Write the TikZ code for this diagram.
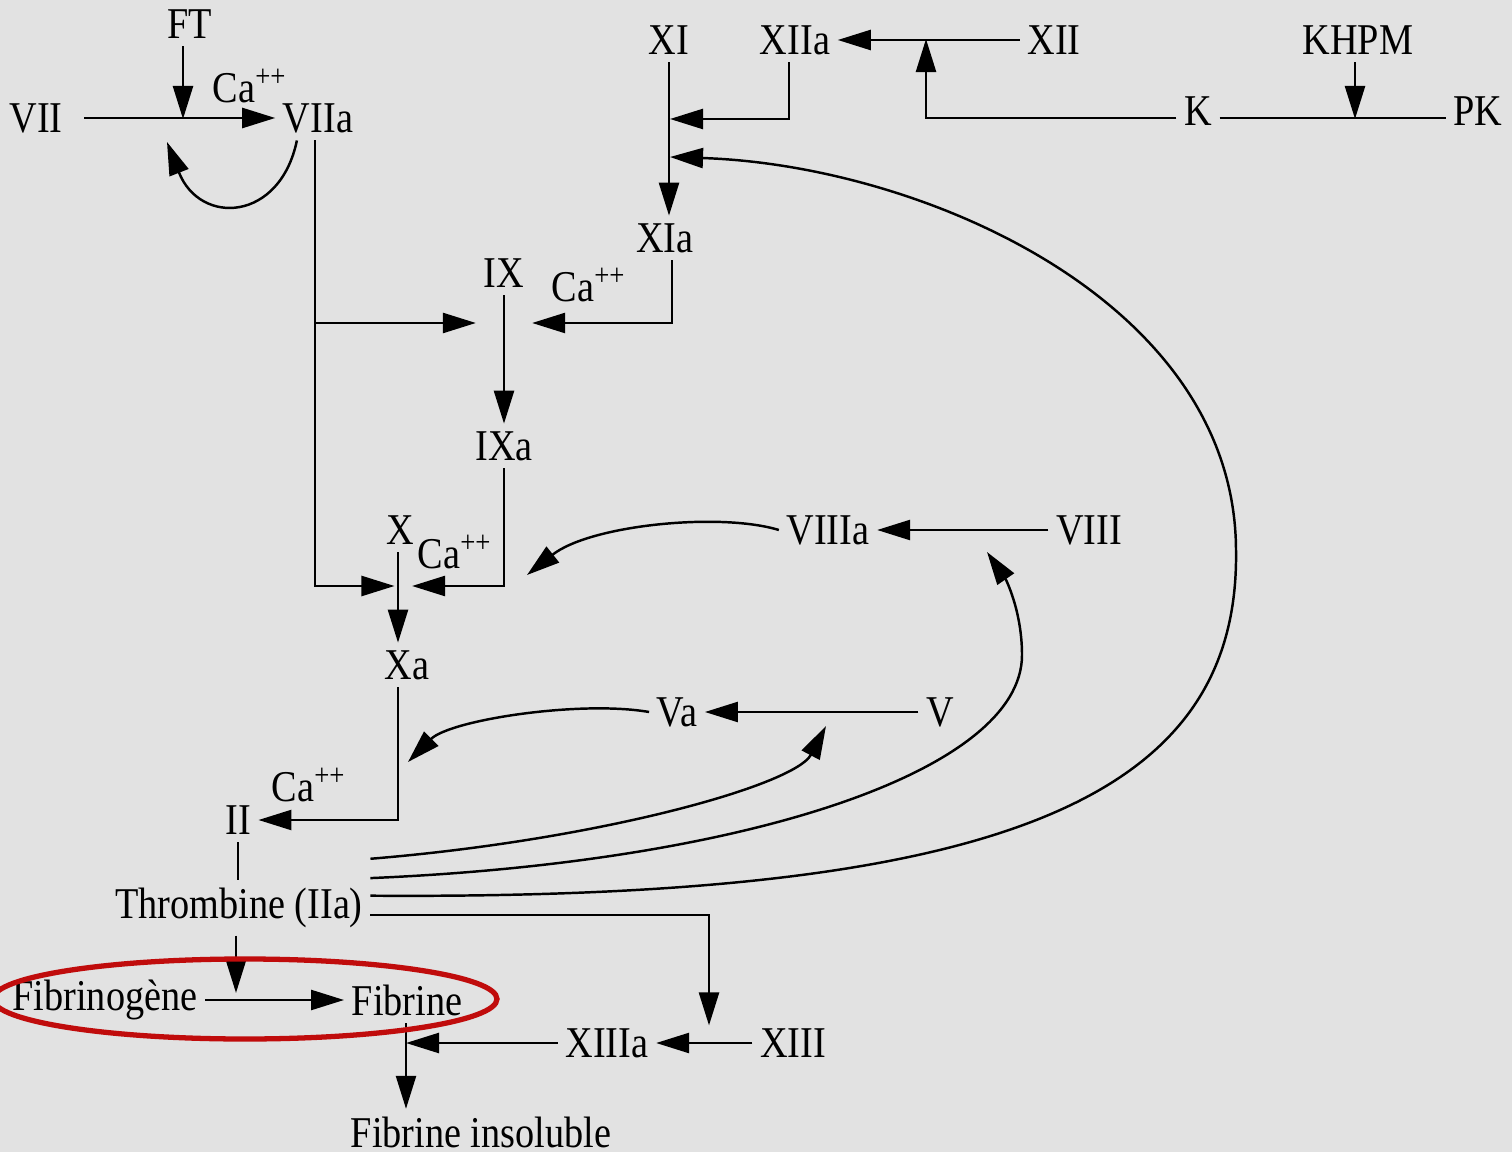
\documentclass[tikz,border=0pt]{standalone}
\usepackage{fontspec}
\setmainfont[FakeStretch=0.87]{Liberation Serif}
\usetikzlibrary{arrows.meta}
\definecolor{paper}{RGB}{226,226,226}
\definecolor{darkred}{RGB}{192,12,12}
\tikzset{
  fac/.style={inner sep=2pt, font=\fontsize{12.5}{14}\selectfont},
  arr/.style={-{Triangle[length=3.3mm,width=2mm]}, line width=0.7pt},
  ln/.style={line width=0.7pt}
}

\begin{document}
\begin{tikzpicture}[x=0.01cm,y=-0.01cm]
    \fill[paper] (0,0) rectangle (1512,1152);
    \useasboundingbox (0,0) rectangle (1512,1152);
    % factors
    \node[fac] (FT)    at (190,24)  {FT};
    \node[fac] (VII)   at (36,118)  {VII};
    \node[fac] (VIIa)  at (318,118) {VIIa};
    \node[fac] (CaA)   at (250,86)  {Ca\textsuperscript{++}};
    \node[fac] (XI)    at (669,40)  {XI};
    \node[fac] (XIIa)  at (795,40)  {XIIa};
    \node[fac] (XII)   at (1054,40) {XII};
    \node[fac] (KHPM)  at (1358,40) {KHPM};
    \node[fac] (K)     at (1198,111) {K};
    \node[fac] (PK)    at (1478,111) {PK};
    \node[fac] (XIa)   at (665,238) {XIa};
    \node[fac] (IX)    at (504,273) {IX};
    \node[fac] (CaB)   at (589,285) {Ca\textsuperscript{++}};
    \node[fac] (IXa)   at (504,446) {IXa};
    \node[fac] (X)     at (400,530) {X};
    \node[fac] (CaC)   at (455,552) {Ca\textsuperscript{++}};
    \node[fac] (Xa)    at (407,665) {Xa};
    \node[fac] (VIIIa) at (828,530) {VIIIa};
    \node[fac] (VIII)  at (1089,530) {VIII};
    \node[fac] (Va)    at (677,712) {Va};
    \node[fac] (V)     at (940,712) {V};
    \node[fac] (CaD)   at (309,785) {Ca\textsuperscript{++}};
    \node[fac] (II)    at (238,820) {II};
    \node[fac] (Thr)   at (239,908) {Thrombine (IIa)};
    \node[fac] (Fibg)  at (105,1000) {Fibrinogène};
    \node[fac] (Fib)   at (407,1000) {Fibrine};
    \node[fac] (XIIIa) at (607,1043) {XIIIa};
    \node[fac] (XIII)  at (793,1043) {XIII};
    \node[fac] (Ins)   at (481,1132) {Fibrine insoluble};
    % junctions and free ends
    \coordinate (jFT)  at (183,119);
    \coordinate (jXI1) at (670,119);
    \coordinate (jXI2) at (670,157);
    \coordinate (jIX)  at (504,323);
    \coordinate (jVII) at (315,323);
    \coordinate (jX)   at (398,586);
    \coordinate (jF)   at (236,1000);
    \coordinate (jXIII) at (709,1043);
    \coordinate (jIns) at (406,1043);
    \coordinate (jXII) at (926,39);
    \coordinate (jKH)  at (1355,119);
    \coordinate (loopend) at (167,142);
    \coordinate (tipX)  at (527,575);
    \coordinate (tipII) at (408,762);
    \coordinate (tipV)  at (826,726);
    \coordinate (tipVIII) at (987,552);
    % extrinsic pathway
    \draw[arr] (FT.south -| jFT) -- (jFT);
    \draw[arr, shorten <=4pt] (VII.east) -- (VIIa.west);
    \draw[arr] ([xshift=-6pt]VIIa.south) .. controls (280,222) and (200,226) .. (loopend);
    \draw[arr, shorten >=1pt] ([xshift=-0.8pt]VIIa.south) |- (jX);
    \draw[arr, shorten >=8pt] (jVII) -- (jIX);
    % intrinsic pathway
    \draw[arr] (XII.west) -- (XIIa.east);
    \draw[arr] ([yshift=-2pt]K.west) -| (jXII);
    \draw[ln] ([yshift=-2pt]K.east) -- ([yshift=-2pt]PK.west);
    \draw[arr] (KHPM.south -| jKH) -- (jKH);
    \draw[arr] ([xshift=-1.7pt]XIIa.south) |- (jXI1);
    \draw[arr] (XI.south) -- (XI.south |- XIa.north);
    \draw[arr, shorten >=8pt] ([xshift=2pt]XIa.south) |- (jIX);
    \draw[arr] (IX.south) -- (IXa.north);
    \draw[arr, shorten >=4pt] (IXa.south) |- (jX);
    \draw[arr] (VIII.west) -- (VIIIa.east);
    \draw[arr] (VIIIa.west) .. controls (720,512) and (590,525) .. (tipX);
    % common pathway
    \draw[arr] (X.south -| jX) -- (jX |- Xa.north);
    \draw[arr] (jX |- Xa.south) |- (II.east);
    \draw[arr] (V.west) -- (Va.east);
    \draw[arr] (Va.west) .. controls (580,700) and (450,720) .. (tipII);
    \draw[ln] (II.south) -- (II.south |- Thr.north);
    \draw[arr, shorten >=2pt] (Thr.south -| jF) -- (jF);
    \draw[arr] (Fibg.east) -- (Fib.west);
    \draw[arr, shorten >=5pt] ([yshift=-2pt]Thr.east) -| (jXIII);
    \draw[arr] (XIII.west) -- (XIIIa.east);
    \draw[arr] (XIIIa.west) -- (jIns);
    \draw[arr] (Fib.south -| jIns) -- (jIns |- Ins.north);
    % thrombin feedback
    \draw[arr] ([yshift=14pt]Thr.east) .. controls (600,840) and (795,785) .. (tipV);
    \draw[arr] ([yshift=8.5pt]Thr.east) .. controls (750,862) and (1022,770) .. (1022,655)
        .. controls (1022,610) and (1005,578) .. (tipVIII);
    \draw[arr] ([yshift=3.5pt]Thr.east) .. controls (1000,900) and (1240,800) .. (1236,550)
        .. controls (1235,300) and (920,165) .. (jXI2);
    % highlight
    \draw[darkred, line width=1.5pt] (245,999) ellipse [x radius=252, y radius=40];
\end{tikzpicture}
\end{document}
